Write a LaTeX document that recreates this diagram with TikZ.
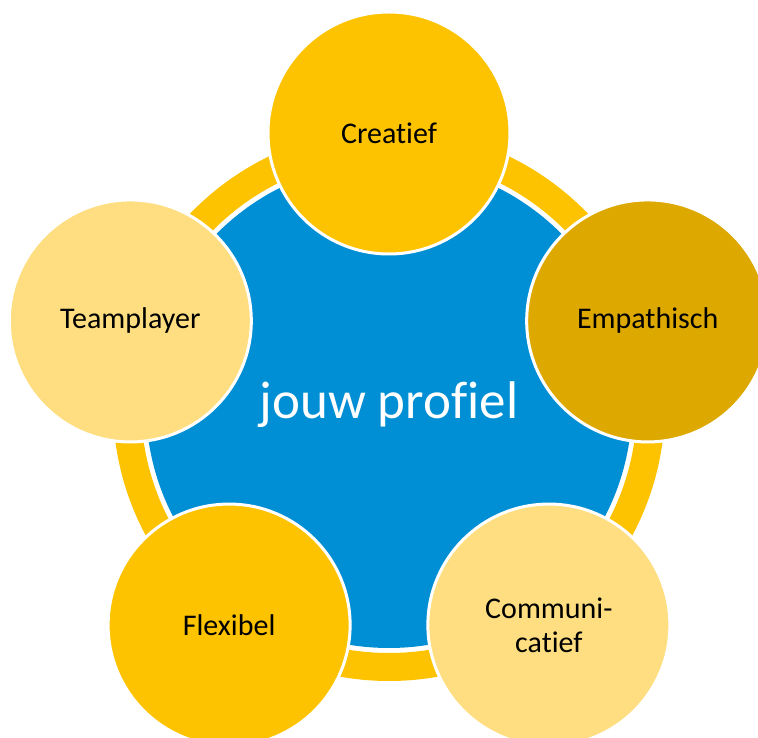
\documentclass[tikz,border=0pt]{standalone}
\usepackage{fontspec}
\setmainfont{Carlito}[Ligatures={NoCommon}]
\usepackage{tikz}
\usetikzlibrary{positioning}

\definecolor{profblue}{HTML}{008FD4}
\definecolor{goldyellow}{HTML}{FDC300}
\definecolor{darkgold}{HTML}{DDA900}
\definecolor{lightgold}{HTML}{FEDE80}

\begin{document}
\begin{tikzpicture}[x=1pt, y=1pt]
	\tikzstyle{trait} = [draw=white, line width=3pt, circle, minimum size=242pt, inner sep=0pt, align=center, font=\fontsize{30}{34}\selectfont]

	\useasboundingbox (-389,-333) rectangle (369,405);

	% ring and centre
	\draw[goldyellow, line width=28pt] (0,0) circle (262);
	\node[fill=profblue, circle, minimum size=486pt, inner sep=0pt, text=white, font=\fontsize{53}{60}\selectfont] (profiel) at (0,0) {jouw profiel};

	% the five traits
	\node[trait, fill=goldyellow] (creatief) at (90:272) {Creatief};
	\node[trait, fill=darkgold] (empathisch) at (18:272) {Empathisch};
	\node[trait, fill=lightgold] (communicatief) at (-54:272) {Communi-\\catief};
	\node[trait, fill=goldyellow] (flexibel) at (-126:272) {Flexibel};
	\node[trait, fill=lightgold] (teamplayer) at (162:272) {Teamplayer};
\end{tikzpicture}
\end{document}
